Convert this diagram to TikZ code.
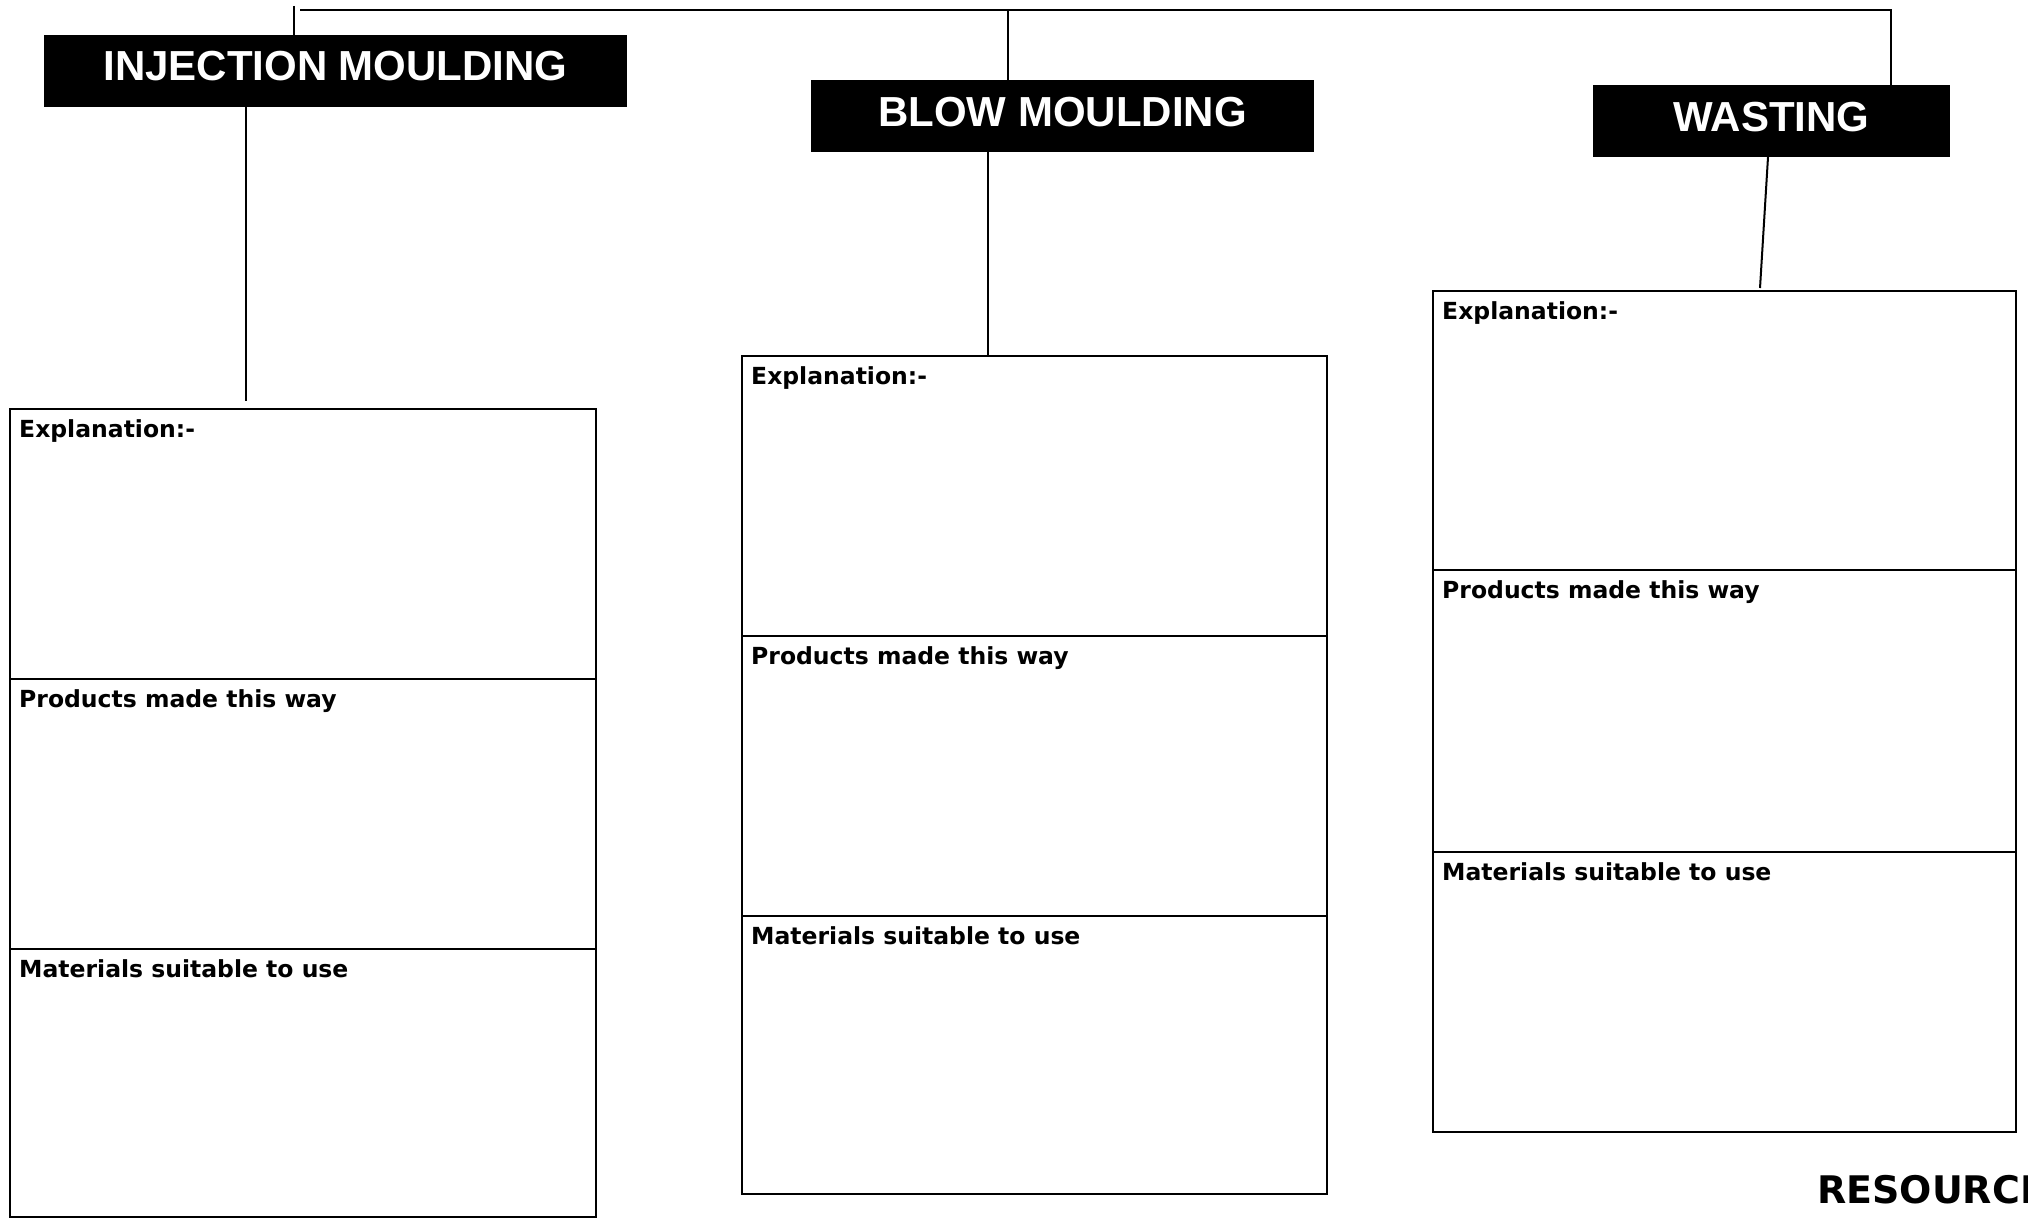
\documentclass[tikz,border=0pt]{standalone}
\usepackage{fontspec}
\newfontfamily\headfont{Liberation Sans}
\newfontfamily\lblfont{DejaVu Sans}
\begin{document}
\begin{tikzpicture}[x=1pt,y=-1pt,
  header/.style={fill=black,text=white,inner sep=0pt,outer sep=0pt,minimum height=72pt,anchor=north west},
  headtext/.style={text=white,inner sep=0pt,anchor=base,font=\headfont\bfseries\fontsize{42}{50}\selectfont},
  sect/.style={draw=black,line width=2.5pt,inner sep=0pt,outer sep=0pt,anchor=north west},
  lbl/.style={inner sep=0pt,anchor=base west,font=\lblfont\bfseries\fontsize{23.5}{28}\selectfont},
  conn/.style={draw=black,line width=2pt}]
\useasboundingbox (0,0) rectangle (2028,1223);
\fill[white] (0,0) rectangle (2028,1223);

% headers
\node[header,minimum width=583pt] (ih) at (44,35) {};
\node[headtext] (iht) at ([yshift=-46pt]ih.north) {INJECTION MOULDING};
\node[header,minimum width=503pt] (bh) at (811,80) {};
\node[headtext] (bht) at ([yshift=-46pt]bh.north) {BLOW MOULDING};
\node[header,minimum width=357pt] (wh) at (1593,85) {};
\node[headtext] (wht) at ([yshift=-46pt]wh.north) {WASTING};

% injection moulding panel
\node[sect,minimum width=586pt,minimum height=270pt] (ie) at (10,409) {};
\node[sect,minimum width=586pt,minimum height=270pt] (ip) at (ie.south west) {};
\node[sect,minimum width=586pt,minimum height=268pt] (im) at (ip.south west) {};
\node[lbl] (iel) at ([xshift=9pt,yshift=-28pt]ie.north west) {Explanation:-};
\node[lbl] (ipl) at ([xshift=9pt,yshift=-28pt]ip.north west) {Products made this way};
\node[lbl] (iml) at ([xshift=9pt,yshift=-28pt]im.north west) {Materials suitable to use};

% blow moulding panel
\node[sect,minimum width=585pt,minimum height=280pt] (be) at (742,356) {};
\node[sect,minimum width=585pt,minimum height=280pt] (bp) at (be.south west) {};
\node[sect,minimum width=585pt,minimum height=278pt] (bm) at (bp.south west) {};
\node[lbl] (bel) at ([xshift=9pt,yshift=-28pt]be.north west) {Explanation:-};
\node[lbl] (bpl) at ([xshift=9pt,yshift=-28pt]bp.north west) {Products made this way};
\node[lbl] (bml) at ([xshift=9pt,yshift=-28pt]bm.north west) {Materials suitable to use};

% wasting panel
\node[sect,minimum width=583pt,minimum height=279pt] (we) at (1433,291) {};
\node[sect,minimum width=583pt,minimum height=282pt] (wp) at (we.south west) {};
\node[sect,minimum width=583pt,minimum height=280pt] (wm) at (wp.south west) {};
\node[lbl] (wel) at ([xshift=9pt,yshift=-28pt]we.north west) {Explanation:-};
\node[lbl] (wpl) at ([xshift=9pt,yshift=-28pt]wp.north west) {Products made this way};
\node[lbl] (wml) at ([xshift=9pt,yshift=-28pt]wm.north west) {Materials suitable to use};

% footer, running off the right edge of the page
\node[inner sep=0pt,anchor=base west,font=\lblfont\bfseries\fontsize{38}{44}\selectfont] (res) at (1817,1203) {RESOURCE};

% connectors along the top
\coordinate (tk) at (294,6);
\coordinate (tl) at (300,10);
\draw[conn] (tk) -- (tk |- ih.north);
\draw[conn] (tl) -| ([xshift=119.5pt]wh.north);
\draw[conn] ([xshift=-54.5pt]bh.north) -- ([xshift=-54.5pt]bh.north |- tl);

% connectors from headers to panels
\draw[conn] ([xshift=-89.5pt]ih.south) -- ([xshift=-89.5pt,yshift=8pt]ih.south |- ie.north);
\draw[conn] ([xshift=-74.5pt]bh.south) -- ([xshift=-74.5pt]bh.south |- be.north);
\draw[conn] ([xshift=-3.5pt]wh.south) -- ([xshift=35.5pt,yshift=3pt]we.north);
\end{tikzpicture}
\end{document}
